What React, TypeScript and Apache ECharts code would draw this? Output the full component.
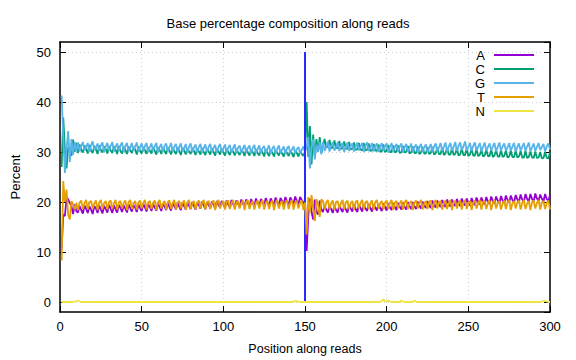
import React, { useEffect, useRef } from "react";
import * as echarts from "echarts";

const chartTitle = "Base percentage composition along reads";
const xAxisName = "Position along reads";
const yAxisName = "Percent";
const baseNames = ["A", "C", "G", "T", "N"];
const baseColors = ["#9400d3", "#009e73", "#56b4e9", "#e69f00", "#f0e442"];
const readBoundary = 150;
const xTickValues = [0, 50, 100, 150, 200, 250, 300];
const yTickValues = [0, 10, 20, 30, 40, 50];

// Percent of A per position (1..300)
const aVals = [
  // 1-10
  10.5, 17.5, 17.2, 20.8, 20.6, 19.8, 19.2, 17.6, 19.5, 18.2,
  // 11-30
  17.9, 19.2, 18.4, 17.7, 19.3, 18.6, 17.8, 19.1, 18.5, 17.6, 19.2, 18.7, 17.8, 19.3, 18.5, 17.7, 19.2, 18.6, 17.9, 19.4,
  // 31-50
  18.7, 17.8, 19.3, 18.6, 17.9, 19.4, 18.8, 18.0, 19.3, 18.7, 17.9, 19.5, 18.8, 18.1, 19.4, 18.9, 18.0, 19.5, 18.8, 18.2,
  // 51-70
  19.6, 18.9, 18.1, 19.5, 19.0, 18.2, 19.6, 18.9, 18.3, 19.7, 19.0, 18.2, 19.6, 19.1, 18.4, 19.8, 19.0, 18.3, 19.7, 19.2,
  // 71-90
  18.5, 19.8, 19.1, 18.4, 19.9, 19.2, 18.5, 19.8, 19.3, 18.6, 20.0, 19.2, 18.5, 19.9, 19.4, 18.7, 20.1, 19.3, 18.6, 20.0,
  // 91-110
  19.4, 18.8, 20.1, 19.5, 18.7, 20.2, 19.4, 18.9, 20.2, 19.6, 18.8, 20.3, 19.5, 18.9, 20.4, 19.6, 19.0, 20.3, 19.7, 19.0,
  // 111-130
  20.5, 19.7, 19.1, 20.5, 19.8, 19.0, 20.6, 19.8, 19.2, 20.7, 19.9, 19.1, 20.6, 20.0, 19.3, 20.8, 19.9, 19.2, 20.7, 20.1,
  // 131-150
  19.4, 20.9, 20.0, 19.3, 20.8, 20.2, 19.5, 21.0, 20.1, 19.4, 20.9, 20.3, 19.6, 21.1, 20.2, 19.5, 21.0, 20.4, 19.6, 20.5,
  // 151-160
  10.2, 17.0, 20.7, 18.0, 16.5, 20.5, 18.0, 17.5, 20.3, 18.5,
  // 161-180
  18.0, 19.3, 18.5, 17.9, 19.2, 18.6, 17.8, 19.3, 18.4, 17.9, 19.4, 18.6, 18.0, 19.3, 18.5, 17.9, 19.4, 18.7, 18.1, 19.5,
  // 181-200
  18.6, 18.0, 19.4, 18.8, 18.1, 19.5, 18.7, 18.2, 19.6, 18.8, 18.1, 19.5, 18.9, 18.3, 19.6, 18.8, 18.2, 19.7, 19.0, 18.3,
  // 201-220
  19.7, 18.9, 18.4, 19.8, 19.0, 18.4, 19.8, 19.1, 18.5, 19.9, 19.0, 18.5, 20.0, 19.2, 18.6, 20.0, 19.1, 18.6, 20.1, 19.3,
  // 221-240
  18.7, 20.1, 19.3, 18.8, 20.2, 19.4, 18.8, 20.3, 19.4, 18.9, 20.3, 19.5, 19.0, 20.4, 19.6, 19.0, 20.5, 19.6, 19.1, 20.5,
  // 241-260
  19.7, 19.2, 20.6, 19.7, 19.2, 20.7, 19.8, 19.3, 20.7, 19.9, 19.3, 20.8, 19.9, 19.4, 20.9, 20.0, 19.5, 20.9, 20.1, 19.5,
  // 261-280
  21.0, 20.1, 19.6, 21.1, 20.2, 19.7, 21.1, 20.3, 19.7, 21.2, 20.3, 19.8, 21.3, 20.4, 19.9, 21.3, 20.4, 19.9, 21.4, 20.5,
  // 281-300
  20.0, 21.5, 20.5, 20.0, 21.6, 20.6, 20.1, 21.6, 20.6, 20.1, 21.7, 20.7, 20.2, 21.5, 20.7, 20.1, 21.6, 20.6, 20.2, 21.4,
];

// Percent of C per position
const cVals = [
  // 1-10
  27.0, 36.9, 30.5, 26.7, 31.0, 30.0, 29.2, 32.5, 30.0, 31.8,
  // 11-30
  29.8, 31.5, 30.4, 29.9, 31.3, 30.6, 29.7, 31.4, 30.3, 29.8, 31.2, 30.5, 29.6, 31.3, 30.4, 29.9, 31.1, 30.6, 29.7, 31.2,
  // 31-50
  30.3, 29.8, 31.1, 30.5, 29.6, 31.2, 30.2, 29.7, 31.0, 30.4, 29.6, 31.1, 30.3, 29.8, 31.0, 30.5, 29.5, 31.1, 30.2, 29.7,
  // 51-70
  31.0, 30.4, 29.6, 30.9, 30.3, 29.7, 31.0, 30.2, 29.5, 30.9, 30.4, 29.6, 30.8, 30.2, 29.6, 30.9, 30.3, 29.5, 30.8, 30.1,
  // 71-90
  29.6, 30.9, 30.2, 29.4, 30.8, 30.3, 29.5, 30.7, 30.1, 29.6, 30.8, 30.2, 29.4, 30.7, 30.1, 29.5, 30.8, 30.0, 29.4, 30.6,
  // 91-110
  30.1, 29.5, 30.7, 30.0, 29.3, 30.6, 30.1, 29.5, 30.7, 29.9, 29.3, 30.6, 30.0, 29.4, 30.5, 30.1, 29.3, 30.6, 29.9, 29.4,
  // 111-130
  30.5, 30.0, 29.2, 30.6, 29.9, 29.3, 30.4, 30.0, 29.2, 30.5, 29.8, 29.3, 30.4, 29.9, 29.1, 30.5, 29.8, 29.2, 30.3, 29.9,
  // 131-150
  29.1, 30.4, 29.8, 29.3, 30.3, 29.7, 29.1, 30.4, 29.8, 29.2, 30.2, 29.7, 29.0, 30.3, 29.8, 29.1, 30.2, 29.6, 29.2, 30.1,
  // 151-160
  40.0, 29.0, 35.2, 27.5, 33.5, 29.0, 32.6, 30.0, 33.0, 29.8,
  // 161-180
  31.2, 32.6, 30.9, 31.0, 32.4, 30.7, 30.9, 32.3, 30.8, 30.8, 32.2, 30.6, 30.7, 32.1, 30.7, 30.6, 32.0, 30.5, 30.6, 31.9,
  // 181-200
  30.4, 30.5, 31.8, 30.5, 30.3, 31.8, 30.3, 30.4, 31.7, 30.2, 30.3, 31.6, 30.3, 30.2, 31.5, 30.1, 30.1, 31.5, 30.0, 30.2,
  // 201-220
  31.4, 30.0, 30.0, 31.3, 29.9, 30.1, 31.3, 29.8, 29.9, 31.2, 29.9, 30.0, 31.2, 29.7, 29.9, 31.1, 29.8, 29.8, 31.1, 29.6,
  // 221-240
  29.9, 31.0, 29.7, 29.7, 31.0, 29.6, 29.8, 31.0, 29.5, 29.7, 30.9, 29.6, 29.6, 30.9, 29.4, 29.7, 30.8, 29.5, 29.5, 30.8,
  // 241-260
  29.4, 29.6, 30.8, 29.3, 29.5, 30.7, 29.4, 29.4, 30.7, 29.2, 29.5, 30.6, 29.3, 29.3, 30.6, 29.2, 29.4, 30.5, 29.1, 29.3,
  // 261-280
  30.5, 29.2, 29.2, 30.5, 29.0, 29.3, 30.4, 29.1, 29.1, 30.4, 29.0, 29.2, 30.3, 28.9, 29.1, 30.3, 29.0, 29.0, 30.3, 28.9,
  // 281-300
  29.1, 30.2, 28.9, 28.9, 30.2, 28.8, 29.0, 30.1, 28.9, 28.8, 30.1, 28.8, 28.9, 30.0, 28.7, 28.8, 30.0, 28.8, 28.7, 29.9,
];

// Percent of G per position
const gVals = [
  // 1-10
  41.3, 33.0, 25.8, 30.5, 34.2, 28.0, 32.6, 29.4, 32.0, 30.2,
  // 11-30
  31.9, 30.1, 31.2, 32.0, 30.3, 31.0, 31.8, 30.0, 31.4, 32.1, 30.4, 30.9, 31.7, 30.2, 31.3, 31.9, 30.0, 31.1, 31.8, 30.3,
  // 31-50
  31.2, 32.0, 30.1, 31.0, 31.7, 30.2, 31.3, 31.9, 30.0, 31.2, 31.8, 30.1, 30.9, 31.8, 30.2, 31.1, 31.9, 30.0, 31.0, 31.7,
  // 51-70
  30.1, 31.2, 31.8, 30.0, 31.0, 31.7, 30.2, 31.1, 31.8, 29.9, 31.0, 31.6, 30.0, 31.2, 31.7, 30.1, 30.9, 31.8, 30.0, 31.1,
  // 71-90
  31.6, 29.9, 31.0, 31.7, 30.1, 30.8, 31.6, 29.8, 31.1, 31.7, 30.0, 30.9, 31.5, 29.9, 31.0, 31.6, 29.8, 30.8, 31.5, 30.0,
  // 91-110
  31.0, 31.6, 29.9, 30.8, 31.4, 29.8, 31.0, 31.6, 30.0, 30.7, 31.5, 29.8, 30.9, 31.4, 29.9, 30.8, 31.5, 29.7, 30.9, 31.3,
  // 111-130
  29.8, 30.7, 31.4, 29.9, 30.8, 31.3, 29.7, 30.8, 31.4, 29.8, 30.6, 31.3, 29.7, 30.8, 31.2, 29.8, 30.6, 31.3, 29.6, 30.7,
  // 131-150
  31.2, 29.7, 30.6, 31.3, 29.8, 30.5, 31.1, 29.6, 30.7, 31.2, 29.7, 30.5, 31.1, 29.8, 30.6, 31.0, 29.7, 30.4, 31.1, 30.0,
  // 151-160
  31.0, 33.0, 26.7, 31.0, 32.6, 28.5, 31.5, 30.0, 32.0, 29.5,
  // 161-180
  32.0, 30.2, 31.0, 32.1, 30.1, 31.2, 31.9, 30.3, 30.9, 32.0, 30.2, 31.1, 31.8, 30.0, 31.0, 31.9, 30.2, 31.2, 31.7, 30.1,
  // 181-200
  31.0, 31.9, 30.3, 31.1, 31.8, 30.0, 31.2, 31.9, 30.2, 30.9, 31.8, 30.1, 31.1, 31.7, 30.0, 31.0, 31.8, 30.2, 31.1, 31.7,
  // 201-220
  29.9, 31.0, 31.8, 30.1, 30.9, 31.6, 30.0, 31.1, 31.7, 29.9, 31.0, 31.6, 30.1, 30.8, 31.7, 30.0, 31.0, 31.5, 29.8, 30.9,
  // 221-240
  31.6, 30.0, 31.0, 31.5, 29.9, 30.8, 31.6, 30.0, 31.1, 31.7, 30.1, 30.9, 31.8, 30.2, 31.0, 31.9, 30.1, 31.1, 31.8, 30.3,
  // 241-260
  31.0, 32.0, 30.2, 31.2, 31.9, 30.4, 31.1, 32.1, 30.3, 31.0, 31.8, 30.2, 31.2, 31.9, 30.3, 31.0, 31.8, 30.1, 31.1, 31.9,
  // 261-280
  30.2, 31.0, 31.7, 30.3, 31.1, 31.8, 30.1, 31.0, 31.9, 30.2, 31.1, 31.7, 30.3, 30.9, 31.8, 30.2, 31.1, 31.8, 30.1, 31.0,
  // 281-300
  31.7, 30.3, 31.0, 31.8, 30.2, 31.1, 31.9, 30.1, 30.9, 31.7, 30.2, 31.0, 31.8, 30.4, 31.0, 31.6, 30.1, 31.1, 31.7, 30.5,
];

// Percent of T per position
const tVals = [
  // 1-10
  8.3, 24.2, 20.0, 22.5, 17.5, 16.5, 20.2, 19.5, 18.5, 19.8,
  // 11-30
  18.4, 19.9, 20.3, 18.6, 19.8, 20.4, 18.5, 20.0, 20.2, 18.7, 19.7, 20.3, 18.4, 19.9, 20.4, 18.6, 19.8, 20.2, 18.5, 20.0,
  // 31-50
  20.3, 18.6, 19.7, 20.4, 18.5, 19.9, 20.2, 18.7, 19.8, 20.3, 18.4, 20.0, 20.4, 18.6, 19.7, 20.2, 18.5, 19.9, 20.3, 18.7,
  // 51-70
  19.8, 20.4, 18.5, 19.9, 20.2, 18.6, 19.8, 20.3, 18.4, 19.9, 20.4, 18.7, 19.7, 20.2, 18.5, 20.0, 20.3, 18.6, 19.8, 20.4,
  // 71-90
  18.5, 19.9, 20.2, 18.7, 19.8, 20.3, 18.4, 20.0, 20.4, 18.6, 19.7, 20.2, 18.5, 19.9, 20.3, 18.7, 19.8, 20.4, 18.5, 19.9,
  // 91-110
  20.2, 18.6, 19.8, 20.3, 18.4, 19.9, 20.4, 18.7, 19.7, 20.2, 18.5, 20.0, 20.3, 18.6, 19.8, 20.4, 18.5, 19.9, 20.2, 18.7,
  // 111-130
  19.8, 20.3, 18.4, 20.0, 20.4, 18.6, 19.7, 20.2, 18.5, 19.9, 20.3, 18.7, 19.8, 20.4, 18.5, 19.9, 20.2, 18.6, 19.8, 20.3,
  // 131-150
  18.4, 19.9, 20.4, 18.7, 19.7, 20.2, 18.5, 20.0, 20.3, 18.6, 19.8, 20.4, 18.5, 19.9, 20.2, 18.7, 19.8, 20.3, 18.4, 19.9,
  // 151-160
  13.5, 21.0, 18.0, 21.4, 18.5, 16.2, 20.6, 19.5, 17.0, 20.5,
  // 161-180
  20.2, 18.5, 19.9, 20.4, 18.6, 19.8, 20.3, 18.4, 20.0, 20.2, 18.7, 19.7, 20.4, 18.5, 19.9, 20.3, 18.6, 19.8, 20.2, 18.4,
  // 181-200
  20.0, 20.3, 18.7, 19.8, 20.4, 18.5, 19.9, 20.2, 18.6, 19.7, 20.3, 18.4, 20.0, 20.4, 18.7, 19.8, 20.2, 18.5, 19.9, 20.3,
  // 201-220
  18.6, 19.8, 20.4, 18.4, 19.9, 20.2, 18.7, 19.7, 20.3, 18.5, 20.0, 20.4, 18.6, 19.8, 20.2, 18.4, 19.9, 20.3, 18.7, 19.8,
  // 221-240
  20.4, 18.5, 19.7, 20.2, 18.6, 20.0, 20.3, 18.4, 19.8, 20.4, 18.7, 19.9, 20.2, 18.5, 19.8, 20.3, 18.6, 19.7, 20.4, 18.4,
  // 241-260
  20.0, 20.2, 18.7, 19.8, 20.3, 18.5, 19.9, 20.4, 18.6, 19.8, 20.2, 18.4, 19.9, 20.3, 18.7, 19.7, 20.4, 18.5, 20.0, 20.2,
  // 261-280
  18.6, 19.8, 20.3, 18.4, 19.9, 20.4, 18.7, 19.8, 20.2, 18.5, 19.7, 20.3, 18.6, 20.0, 20.4, 18.4, 19.8, 20.2, 18.7, 19.9,
  // 281-300
  20.3, 18.5, 19.8, 20.4, 18.6, 19.7, 20.2, 18.4, 20.0, 20.3, 18.7, 19.8, 20.4, 18.5, 19.9, 20.2, 18.6, 19.8, 20.3, 18.5,
];

// Percent of N per position
const nVals = [
  // 1-10
  0, 0, 0, 0, 0, 0, 0, 0, 0.1, 0.2,
  // 11-30
  0.3, 0.1, 0, 0, 0, 0, 0, 0, 0, 0, 0, 0, 0, 0, 0, 0, 0, 0, 0, 0,
  // 31-50
  0, 0, 0, 0, 0, 0, 0, 0, 0, 0, 0, 0, 0, 0, 0, 0, 0, 0, 0, 0,
  // 51-70
  0, 0, 0, 0, 0, 0, 0, 0, 0, 0, 0, 0, 0, 0, 0, 0, 0, 0, 0, 0,
  // 71-90
  0, 0, 0, 0, 0, 0, 0, 0, 0, 0, 0, 0, 0, 0, 0, 0, 0, 0, 0, 0,
  // 91-110
  0, 0, 0, 0, 0, 0, 0, 0, 0, 0, 0, 0, 0, 0, 0, 0, 0, 0, 0, 0,
  // 111-130
  0, 0, 0, 0, 0, 0, 0, 0, 0, 0, 0, 0, 0, 0, 0, 0, 0, 0, 0, 0,
  // 131-150
  0, 0, 0, 0, 0, 0, 0, 0, 0, 0, 0, 0, 0.1, 0.15, 0.15, 0.1, 0, 0, 0, 0,
  // 151-160
  0, 0, 0, 0, 0, 0, 0, 0, 0, 0,
  // 161-180
  0, 0, 0, 0, 0, 0, 0, 0, 0, 0, 0, 0, 0, 0, 0, 0, 0, 0, 0, 0,
  // 181-200
  0, 0, 0, 0, 0, 0, 0, 0, 0, 0, 0, 0, 0, 0, 0, 0, 0.2, 0.5, 0.2, 0.1,
  // 201-220
  0.3, 0.1, 0, 0, 0, 0, 0, 0, 0.3, 0.1, 0, 0, 0, 0, 0, 0, 0.3, 0.1, 0, 0,
  // 221-240
  0, 0, 0, 0, 0, 0, 0, 0, 0, 0, 0, 0, 0, 0, 0, 0, 0, 0, 0, 0,
  // 241-260
  0, 0, 0, 0, 0, 0, 0, 0, 0, 0, 0, 0, 0, 0, 0, 0, 0, 0, 0, 0,
  // 261-280
  0, 0, 0, 0, 0, 0, 0, 0, 0, 0, 0, 0, 0, 0, 0, 0, 0, 0, 0, 0,
  // 281-300
  0, 0, 0, 0, 0, 0, 0, 0, 0, 0, 0, 0, 0, 0, 0.1, 0.2, 0.2, 0.1, 0, 0,
];

const allVals = [aVals, cVals, gVals, tVals, nVals];

const FONT = "'Liberation Sans', Arial, Helvetica, sans-serif";

export default function App() {
  const ref = useRef<HTMLDivElement>(null);

  useEffect(() => {
    if (!ref.current) return;
    const chart = echarts.init(ref.current, undefined, { renderer: "svg" });

    const series: any[] = baseNames.map((name, i) => ({
      name,
      type: "line",
      xAxisIndex: 0,
      yAxisIndex: 0,
      showSymbol: false,
      symbol: "none",
      data: allVals[i].map((v, k) => [k + 1, v]),
      lineStyle: { color: baseColors[i], width: 1.8 },
      itemStyle: { color: baseColors[i] },
      z: 2 + i,
    }));
    series[series.length - 1].markLine = {
      silent: true,
      symbol: "none",
      animation: false,
      label: { show: false },
      lineStyle: { color: "#2a2aff", width: 2, type: "solid" },
      data: [[{ coord: [readBoundary, yTickValues[0]] }, { coord: [readBoundary, yTickValues[yTickValues.length - 1]] }]],
    };

    const axisLine = { onZero: false, lineStyle: { color: "#000", width: 1.5 } };
    const axisTick = { inside: true, length: 6, lineStyle: { color: "#000", width: 1 } };
    const splitLine = { show: true, lineStyle: { color: "#cfcfcf", width: 1, type: [1, 3] } };
    const yFormatter = (v: number) => (yTickValues.includes(v) ? String(v) : "");

    chart.setOption({
      animation: false,
      backgroundColor: "#ffffff",
      textStyle: { fontFamily: FONT },
      title: {
        text: chartTitle,
        left: "center",
        top: 12,
        textStyle: { fontFamily: FONT, fontSize: 13, fontWeight: "normal", color: "#000" },
      },
      legend: {
        orient: "vertical",
        right: 42,
        top: 48,
        padding: 0,
        align: "right",
        itemWidth: 40,
        itemHeight: 2,
        itemGap: 0,
        icon: "rect",
        data: baseNames,
        textStyle: { fontFamily: FONT, fontSize: 13, color: "#000", lineHeight: 14, padding: [0, 4, 0, 0] },
      },
      grid: { left: 60, right: 26, top: 42, bottom: 46 },
      xAxis: [
        {
          type: "value",
          position: "bottom",
          min: xTickValues[0],
          max: xTickValues[xTickValues.length - 1],
          interval: 50,
          name: xAxisName,
          nameLocation: "middle",
          nameGap: 30,
          nameTextStyle: { fontFamily: FONT, fontSize: 12.5, color: "#000" },
          axisLine,
          axisTick,
          axisLabel: { color: "#000", fontSize: 13, margin: 8, fontFamily: FONT },
          splitLine,
        },
        {
          type: "value",
          position: "top",
          min: xTickValues[0],
          max: xTickValues[xTickValues.length - 1],
          interval: 50,
          axisLine,
          axisTick,
          axisLabel: { show: false },
          splitLine: { show: false },
        },
      ],
      yAxis: [
        {
          type: "value",
          position: "left",
          min: -2,
          max: 52,
          splitNumber: 5,
          name: yAxisName,
          nameLocation: "middle",
          nameGap: 38,
          nameRotate: 90,
          nameTextStyle: { fontFamily: FONT, fontSize: 13, color: "#000" },
          axisLine,
          axisTick,
          axisLabel: {
            color: "#000",
            fontSize: 13,
            margin: 9,
            fontFamily: FONT,
            showMinLabel: false,
            showMaxLabel: false,
            formatter: yFormatter,
          },
          splitLine,
        },
        {
          type: "value",
          position: "right",
          min: -2,
          max: 52,
          splitNumber: 5,
          axisLine,
          axisTick,
          axisLabel: { show: false },
          splitLine: { show: false },
        },
      ],
      series,
    });

    return () => chart.dispose();
  }, []);

  return (
    <div
      ref={ref}
      style={{ position: "fixed", left: 0, top: 0, width: 576, height: 360, background: "#fff" }}
    />
  );
}
